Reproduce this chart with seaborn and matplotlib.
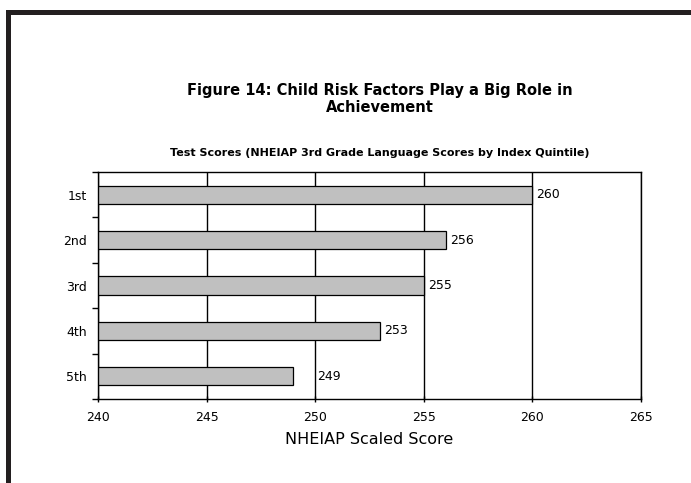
import numpy as np
import pandas as pd
import matplotlib
matplotlib.use("Agg")
import matplotlib.pyplot as plt
import matplotlib.patches as mpatches
import seaborn as sns

# dati
quintili = ['1st', '2nd', '3rd', '4th', '5th']
punteggi = [260, 256, 255, 253, 249]
etichette = ['260', '256', '255', '253', '249']
tick_x = [240, 245, 250, 255, 260, 265]

df = pd.DataFrame({'quintile': quintili, 'score': punteggi})

sns.set_style('white')
plt.rcParams['font.family'] = ['DejaVu Sans']
plt.rcParams['text.color'] = 'black'
plt.rcParams['axes.labelcolor'] = 'black'
plt.rcParams['xtick.color'] = 'black'
plt.rcParams['ytick.color'] = 'black'

fig = plt.figure(figsize=(6.91, 4.83), dpi=100)
ax = fig.add_axes([0.1418, 0.1739, 0.7859, 0.4700])

sns.barplot(data=df, x='score', y='quintile', orient='h', color='#c0c0c0',
            saturation=1, edgecolor='black', linewidth=0.9, width=0.4, ax=ax)

ax.set_xlim(240, 265)
ax.set_xticks(tick_x)
ax.set_xticklabels([str(t) for t in tick_x], fontsize=9)
ax.set_yticks(range(len(quintili)))
ax.set_yticklabels(quintili, fontsize=9)
ax.set_yticks(np.arange(-0.5, len(quintili)), minor=True)
ax.tick_params(axis='y', which='major', left=True, length=0, pad=8)
ax.tick_params(axis='y', which='minor', left=True, length=4, direction='out', width=1, color='black')
ax.tick_params(axis='x', which='major', bottom=True, length=5, direction='inout', width=1, color='black', pad=6)
ax.set_ylabel('')
ax.set_xlabel('NHEIAP Scaled Score', fontsize=11.5, labelpad=6)

ax.xaxis.grid(True, color='black', linewidth=1)
ax.set_axisbelow(True)
for s in ax.spines.values():
    s.set_color('black')
    s.set_linewidth(1)

# etichette dei valori (Excel sposta "249" dopo la griglia)
pads = [3, 3, 3, 3, 17]
for bar, lab, p in zip(ax.containers[0], etichette, pads):
    ax.annotate(lab, xy=(bar.get_width(), bar.get_y() + bar.get_height() / 2),
                xytext=(p, 0), textcoords='offset points', va='center', ha='left',
                fontsize=9, color='black')

fig.text(0.55, 0.795, 'Figure 14: Child Risk Factors Play a Big Role in\nAchievement',
         ha='center', va='center', fontsize=10.5, fontweight='bold', linespacing=1.1,
         color='black')
fig.text(0.55, 0.683, 'Test Scores (NHEIAP 3rd Grade Language Scores by Index Quintile)',
         ha='center', va='center', fontsize=8, fontweight='bold', color='black')

# cornice scura in alto e a sinistra
fig.add_artist(mpatches.Rectangle((6 / 691, 1 - 11 / 483), 1, 1 / 483,
                                  transform=fig.transFigure, color='#bdbdbd', lw=0))
fig.add_artist(mpatches.Rectangle((6 / 691, 1 - 15 / 483), 1, 5 / 483,
                                  transform=fig.transFigure, color='#231f20', lw=0))
fig.add_artist(mpatches.Rectangle((6 / 691, 0), 5 / 691, 1 - 10 / 483,
                                  transform=fig.transFigure, color='#231f20', lw=0))

fig.savefig('out.png', dpi=100)
